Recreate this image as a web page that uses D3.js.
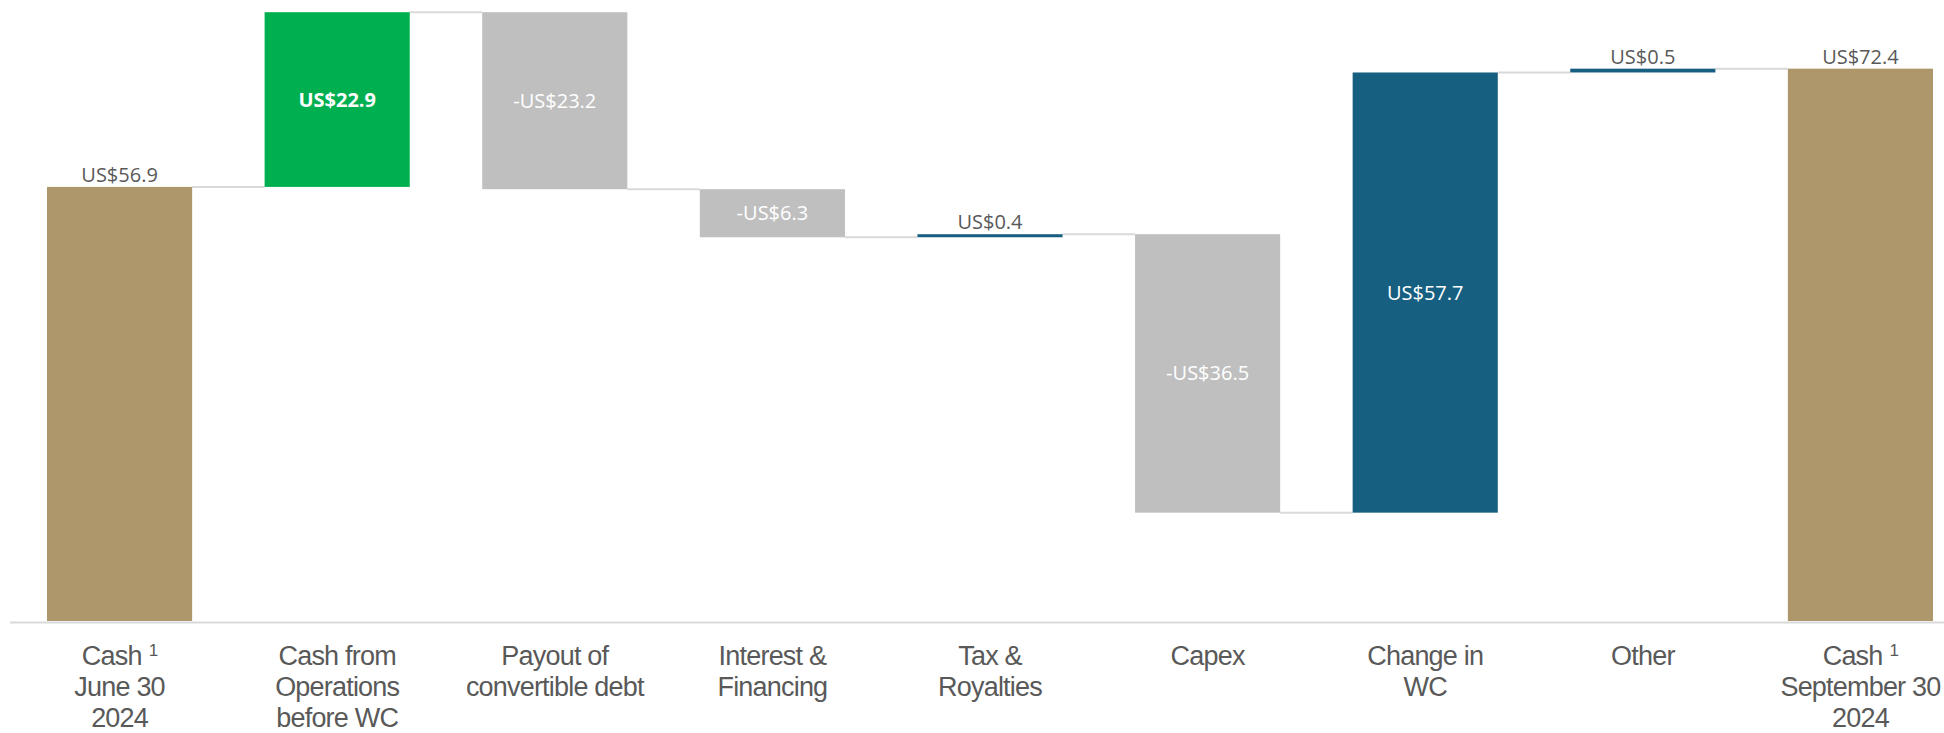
<!DOCTYPE html>
<html>
<head>
<meta charset="utf-8">
<script src="https://cdn.jsdelivr.net/npm/d3@7"></script>
<style>
  body { margin: 0; background: #fff; }
  svg { display: block; }
</style>
</head>
<body>
<svg id="chart" width="1944" height="733"></svg>
<script>
// waterfall: cash bridge june -> september 2024 (US$ M)
var categories = ["Cash June 30 2024", "Cash from Operations before WC", "Payout of convertible debt",
  "Interest & Financing", "Tax & Royalties", "Capex", "Change in WC", "Other", "Cash September 30 2024"];
var tickLines = [["Cash", "June 30", "2024"], ["Cash from", "Operations", "before WC"], ["Payout of", "convertible debt"],
  ["Interest &", "Financing"], ["Tax &", "Royalties"], ["Capex"], ["Change in", "WC"], ["Other"], ["Cash", "September 30", "2024"]];
var footnotes = ["1", "", "", "", "", "", "", "", "1"];
var values = [56.9, 22.9, -23.2, -6.3, 0.4, -36.5, 57.7, 0.5, 72.4];
var kinds = ["total", "delta", "delta", "delta", "delta", "delta", "delta", "delta", "total"];
var highlight = "Cash from Operations before WC";

var W = 1944, H = 733, base = 621;
var svg = d3.select("#chart");

var x = d3.scaleBand().domain(categories).range([47, 1933]).paddingInner(0.333).paddingOuter(0);
var y = d3.scaleLinear().domain([0, 81.4]).range([base, 0]);

// running totals
var run = 0;
var rows = categories.map(function(c, i){
  var s, e;
  if(kinds[i] == "total"){ s = 0; e = values[i]; }
  else { s = run; e = run + values[i]; }
  run = e;
  return {cat: c, i: i, v: values[i], kind: kinds[i], start: s, end: e};
});

function barColor(d){
  if(d.kind == "total") return "#ae976a";
  if(d.cat == highlight) return "#00b050";
  return d.v < 0 ? "#bfbfbf" : "#175f80";
}
function fmt(v){ return (v < 0 ? "-" : "") + "US$" + Math.abs(v).toFixed(1); }
function outside(d){ // totals and thin bars get label above
  return d.kind == "total" || Math.abs(y(d.start) - y(d.end)) < 30;
}

// baseline
svg.append("line").attr("x1", 10).attr("x2", W).attr("y1", base + 1.5).attr("y2", base + 1.5)
  .attr("stroke", "#d9d9d9").attr("stroke-width", 2);

// connectors
svg.append("g").selectAll("line").data(rows.slice(0, -1)).enter().append("line")
  .attr("x1", function(d){ return x(d.cat) + x.bandwidth(); })
  .attr("x2", function(d){ return x(categories[d.i + 1]); })
  .attr("y1", function(d){ return y(d.end); })
  .attr("y2", function(d){ return y(d.end); })
  .attr("stroke", "#d9d9d9").attr("stroke-width", 2);

// bars
svg.append("g").selectAll("rect").data(rows).enter().append("rect")
  .attr("x", function(d){ return x(d.cat); })
  .attr("width", x.bandwidth())
  .attr("y", function(d){ return y(Math.max(d.start, d.end)); })
  .attr("height", function(d){ return Math.abs(y(d.start) - y(d.end)); })
  .attr("fill", barColor);

// value labels
svg.append("g").selectAll("text").data(rows).enter().append("text")
  .attr("x", function(d){ return x(d.cat) + x.bandwidth() / 2; })
  .attr("y", function(d){
    var top = y(Math.max(d.start, d.end)), bot = y(Math.min(d.start, d.end));
    return outside(d) ? top - 5 : (top + bot) / 2 + 7;
  })
  .attr("text-anchor", "middle")
  .style("font-family", "'Open Sans', sans-serif")
  .style("font-size", "20px")
  .style("font-weight", function(d){ return d.cat == highlight ? "bold" : "normal"; })
  .attr("fill", function(d){ return outside(d) ? "#595959" : "#ffffff"; })
  .text(function(d){ return fmt(d.v); });

// category axis
var ax = svg.append("g").attr("transform", "translate(0," + base + ")")
  .call(d3.axisBottom(x).tickSize(0).tickFormat(""));
ax.select(".domain").remove();
ax.selectAll(".tick").each(function(c){
  var i = categories.indexOf(c);
  var t = d3.select(this).append("text")
    .attr("text-anchor", "middle")
    .attr("fill", "#595959")
    .style("font-family", "'Liberation Sans', Arial, sans-serif")
    .style("font-size", "27px")
    .style("letter-spacing", "-0.8px");
  tickLines[i].forEach(function(line, k){
    t.append("tspan").attr("x", 0).attr("y", 44 + k * 31).text(line);
    if(k == 0 && footnotes[i]){
      t.append("tspan").attr("dx", 7).attr("dy", -9).style("font-size", "17px").text(footnotes[i]);
    }
  });
});
</script>
</body>
</html>
